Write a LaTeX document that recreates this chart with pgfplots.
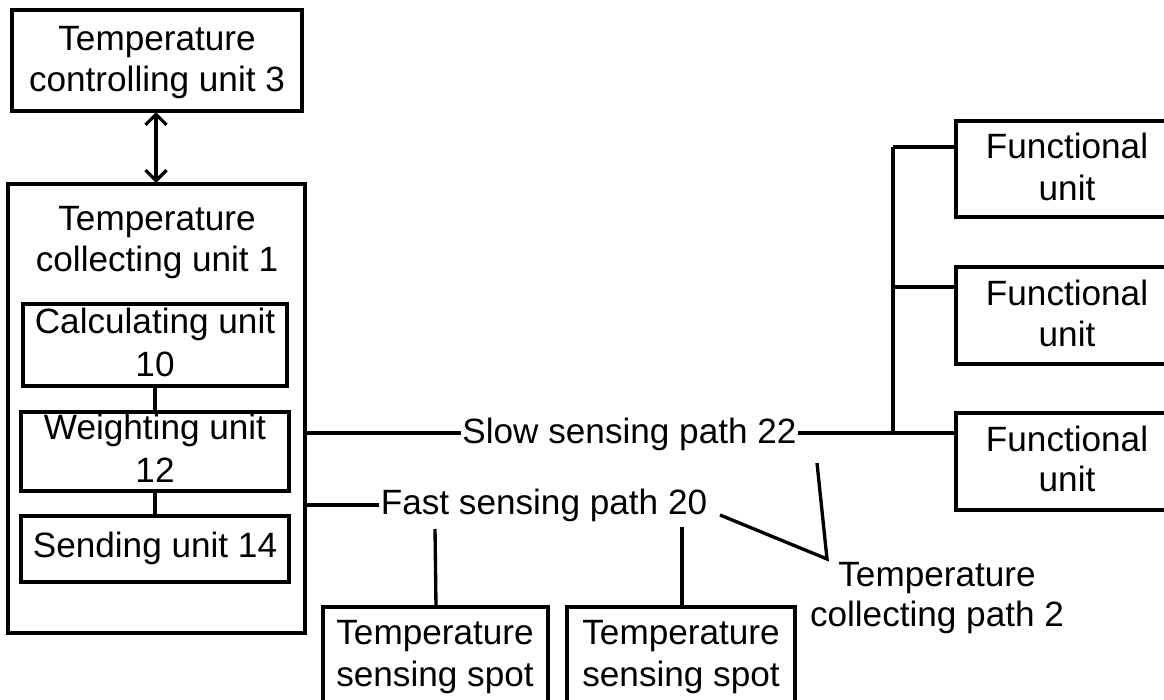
\documentclass[border=0pt]{standalone}
\usepackage{fontspec}
\setmainfont{Liberation Sans}
\usepackage{pgfplots}
\pgfplotsset{compat=1.18}
\usetikzlibrary{arrows.meta}
\begin{document}
\begin{tikzpicture}
\begin{axis}[name=ax, width=11.64cm, height=7cm, scale only axis, hide axis,
  xmin=0, xmax=1164, ymin=0, ymax=700, y dir=reverse, clip=false]
\tikzset{lw/.style={line width=0.95pt, black},
  t/.style={font=\fontsize{10}{12}\selectfont, inner sep=0pt, anchor=base}}
% top box
\draw[lw] (12,10) rectangle (302,111);
\node[t] at (157,50) {Temperature};
\node[t] at (157,91) {controlling unit 3};
\draw[lw,{Straight Barb[length=3pt,width=6pt]}-{Straight Barb[length=3pt,width=6pt]}] (156,112) -- (156,183);
% big box
\draw[lw] (8,184) rectangle (305,633);
\node[t] at (157,230) {Temperature};
\node[t] at (157,271) {collecting unit 1};
\draw[lw] (23,304) rectangle (287,386);
\node[t] at (155,333) {Calculating unit};
\node[t] at (155,376) {10};
\draw[lw] (155,386) -- (155,412);
\draw[lw] (21,412) rectangle (289,491);
\node[t] at (155,439) {Weighting unit};
\node[t] at (155,482) {12};
\draw[lw] (155,491) -- (155,516);
\draw[lw] (21,516) rectangle (289,582);
\node[t] at (155,558) {Sending unit 14};
% slow path
\draw[lw] (305,433) -- (461,433);
\node[t] at (629.5,443) {Slow sensing path 22};
\draw[lw] (798,433) -- (956,433);
\draw[lw] (893,147) -- (893,433);
\draw[lw] (893,147) -- (956,147);
\draw[lw] (893,287) -- (956,287);
% functional units
\draw[lw] (1164,121) -- (956,121) -- (956,217) -- (1164,217);
\node[t] at (1067,158) {Functional};
\node[t] at (1067,200) {unit};
\draw[lw] (1164,267) -- (956,267) -- (956,364) -- (1164,364);
\node[t] at (1067,305) {Functional};
\node[t] at (1067,346) {unit};
\draw[lw] (1164,413) -- (956,413) -- (956,510) -- (1164,510);
\node[t] at (1067,451) {Functional};
\node[t] at (1067,492) {unit};
% fast path
\draw[lw] (305,505) -- (379,505);
\node[t] at (544,515) {Fast sensing path 20};
\draw[lw] (435,529) -- (436,607);
\draw[lw] (682,527) -- (682,607);
% sensing spots
\draw[lw] (323,700) -- (323,607) -- (548,607) -- (548,700);
\node[t] at (435,645) {Temperature};
\node[t] at (435,687) {sensing spot};
\draw[lw] (567,700) -- (567,607) -- (795,607) -- (795,700);
\node[t] at (681,645) {Temperature};
\node[t] at (681,687) {sensing spot};
% collecting path 2
\draw[lw] (720,515) -- (827,559) -- (817,463);
\node[t] at (937,587) {Temperature};
\node[t] at (937,627) {collecting path 2};
\end{axis}
\pgfresetboundingbox
\path[use as bounding box] (ax.south west) rectangle (ax.north east);
\end{tikzpicture}
\end{document}
